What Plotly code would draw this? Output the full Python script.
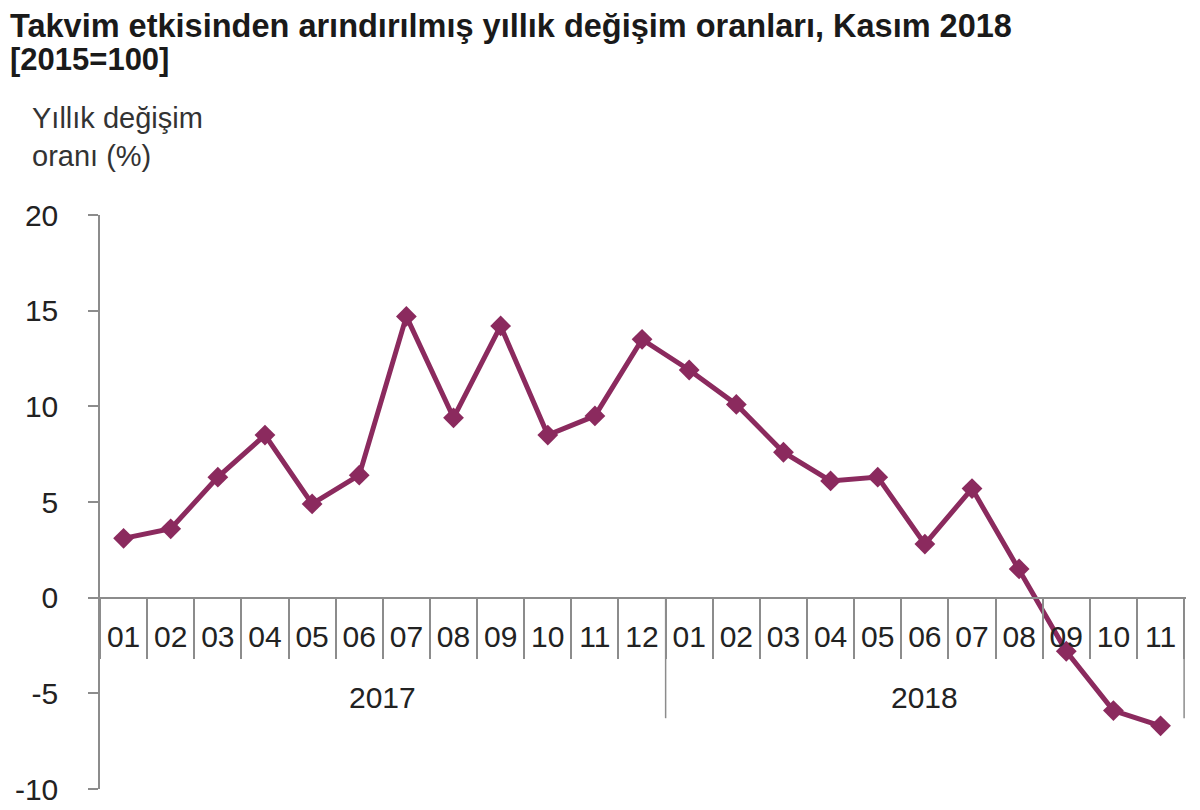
import plotly.graph_objects as go

# takvim etkisinden arındırılmış yıllık değişim (%)
months = ["01", "02", "03", "04", "05", "06", "07", "08", "09", "10", "11", "12",
          "01", "02", "03", "04", "05", "06", "07", "08", "09", "10", "11"]
years = ["2017", "2018"]
months_per_year = [12, 11]
values = [3.1, 3.6, 6.3, 8.5, 4.9, 6.4, 14.7, 9.4, 14.2, 8.5, 9.5, 13.5,
          11.9, 10.1, 7.6, 6.1, 6.3, 2.8, 5.7, 1.5, -2.8, -5.9, -6.7]

y_range = [-10, 20]
y_ticks = [-10, -5, 0, 5, 10, 15, 20]
y_ticktext = ["-10", "-5", "0", "5", "10", "15", "20"]

LINE = "#8B2A5E"
AXIS = "#8c8c8c"
FONT = "Liberation Sans, Arial, sans-serif"

# page body has an 8px margin, so the figure is 8px smaller than the window
W, H = 1192, 802
L, R, T, B = 92, 14, 207, 21
PW, PH = W - L - R, H - T - B

pos = list(range(len(months)))
bounds = [p - 0.5 for p in pos] + [pos[-1] + 0.5]

fig = go.Figure()
fig.add_trace(go.Scatter(
    x=pos,
    y=values,
    mode="lines+markers",
    line=dict(color=LINE, width=5),
    marker=dict(symbol="diamond", size=16, color=LINE),
    showlegend=False,
))

fig.update_layout(
    width=W,
    height=H,
    paper_bgcolor="white",
    plot_bgcolor="white",
    margin=dict(l=L, r=R, t=T, b=B),
    font=dict(family=FONT, size=30, color="#222"),
    xaxis=dict(
        range=[bounds[0], bounds[-1] + 0.04],
        anchor="free",
        position=(0 - y_range[0]) / (y_range[1] - y_range[0]),
        automargin=False,
        tickvals=pos,
        ticktext=months,
        ticks="",
        ticklabelstandoff=13,
        showline=True,
        linecolor=AXIS,
        linewidth=1.5,
        showgrid=False,
        zeroline=False,
        tickfont=dict(size=30, color="#222"),
        minor=dict(tickvals=bounds, ticks="outside", ticklen=61,
                   tickcolor=AXIS, tickwidth=1.5, showgrid=False),
    ),
    yaxis=dict(
        range=y_range,
        automargin=False,
        tickvals=y_ticks,
        ticktext=y_ticktext,
        ticklabeloverflow="allow",
        showline=True,
        linecolor=AXIS,
        linewidth=1.5,
        ticks="outside",
        ticklen=10,
        tickcolor=AXIS,
        tickwidth=1.5,
        showgrid=False,
        zeroline=False,
        tickfont=dict(size=30, color="#222"),
        ticklabelstandoff=24,
    ),
)

# year group dividers and labels
start = 0
for year, n in zip(years, months_per_year):
    fig.add_shape(type="line", xref="x", yref="y",
                  x0=bounds[start + n], x1=bounds[start + n], y0=0, y1=-6.3,
                  line=dict(color=AXIS, width=1.5))
    fig.add_annotation(text=year, xref="x", yref="paper",
                       x=(bounds[start] + bounds[start + n]) / 2, y=92 / PH,
                       showarrow=False, yanchor="middle",
                       font=dict(size=30, color="#222"))
    start += n

fig.add_annotation(
    text="<b>Takvim etkisinden arındırılmış yıllık değişim oranları, Kasım 2018</b>",
    xref="paper", yref="paper", x=-L / PW, y=1 + (T - 18) / PH,
    xanchor="left", yanchor="middle", showarrow=False,
    font=dict(size=32.5, color="#1a1a1a"),
)
fig.add_annotation(
    text="<b>[2015=100]</b>",
    xref="paper", yref="paper", x=-L / PW, y=1 + 155 / PH,
    xanchor="left", yanchor="middle", showarrow=False,
    font=dict(size=31, color="#1a1a1a"),
)
fig.add_annotation(
    text="Yıllık değişim<br>oranı (%)",
    xref="paper", yref="paper", x=-70 / PW, y=1 + 78 / PH,
    xanchor="left", yanchor="middle", showarrow=False, align="left",
    font=dict(size=29, color="#333"),
)

fig.write_html("out.html")
